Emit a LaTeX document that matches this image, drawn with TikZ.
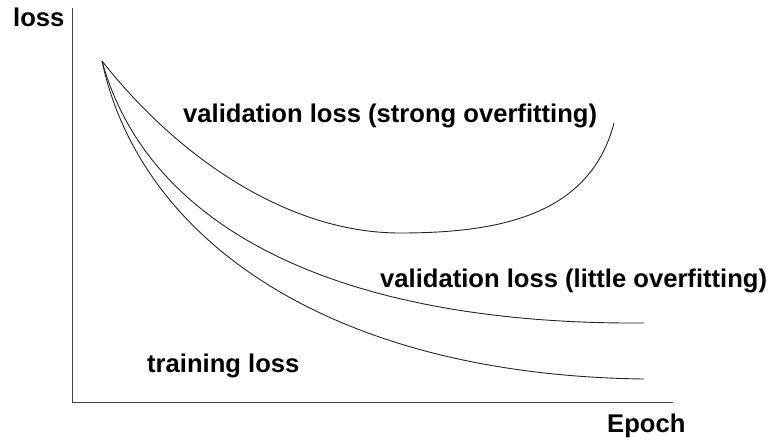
\documentclass[tikz,border=0pt]{standalone}
\usepackage{fontspec}
\setmainfont{Liberation Sans}
\begin{document}
\begin{tikzpicture}[x=1pt,y=-1pt,
  lbl/.style={anchor=base west,inner sep=0pt,font=\fontsize{25.6}{30}\selectfont\bfseries},
  axis/.style={line width=1pt,draw=black!75},
  lossline/.style={line width=0.9pt,draw=black!85}]
  \useasboundingbox (0,0) rectangle (770,439);

  % axes
  \coordinate (top) at (72,8);
  \coordinate (origin) at (72,402);
  \coordinate (right) at (673,402);
  \draw[axis] (top) -- (origin) -- (right);

  % axis titles
  \node[lbl] (ylab) at (13,27) {loss};
  \node[lbl] (xlab) at (607,432) {Epoch};

  % curves, all starting from the same initial loss
  \coordinate (start) at (102,61);
  \coordinate (minval) at (400,233);
  \coordinate (strongend) at (614,123);
  \coordinate (littleend) at (644,323);
  \coordinate (trainend) at (644,379);

  \draw[lossline] (start) .. controls (180,160) and (290,233) .. (minval)
                          .. controls (500,233) and (590,215) .. (strongend);
  \draw[lossline] (start) .. controls (150,235) and (350,325) .. (littleend);
  \draw[lossline] (start) .. controls (140,240) and (330,375) .. (trainend);

  % curve labels
  \node[lbl] (strong) at (183,122) {validation loss (strong overfitting)};
  \node[lbl] (little) at (380,287) {validation loss (little overfitting)};
  \node[lbl] (train) at (147,372) {training loss};
\end{tikzpicture}
\end{document}
